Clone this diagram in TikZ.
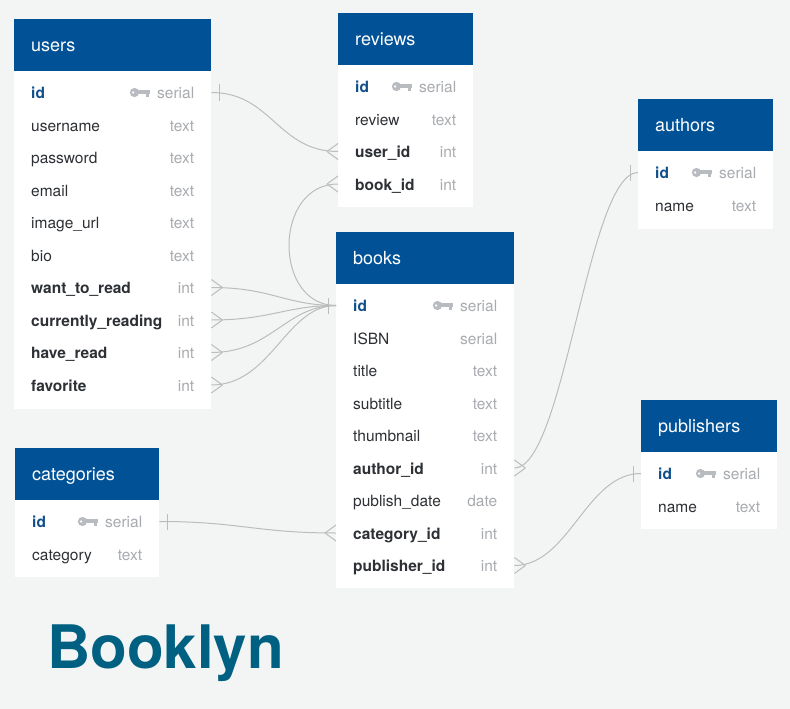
\documentclass[tikz,border=0pt]{standalone}
\usepackage{fontspec}
\setmainfont{TeX Gyre Heros}
\definecolor{bgcol}{RGB}{243,244,244}
\definecolor{hdblue}{RGB}{0,81,150}
\definecolor{pkblue}{RGB}{16,78,140}
\definecolor{fieldcol}{RGB}{45,48,52}
\definecolor{typecol}{RGB}{168,171,175}
\definecolor{keygrey}{RGB}{184,188,193}
\definecolor{linkcol}{RGB}{188,188,188}
\definecolor{brandcol}{RGB}{0,96,130}
\tikzset{
  tablehead/.style={anchor=north west, fill=hdblue, inner sep=0, minimum height=52pt},
  tabletitle/.style={anchor=west, text=white, inner sep=0, font=\fontsize{18}{20}\selectfont, text height=12pt, text depth=3.5pt},
  tablebody/.style={anchor=north west, fill=white, inner sep=0},
  rowbox/.style={anchor=west, inner sep=0, minimum height=0pt},
  colplain/.style={anchor=base west, inner sep=0, text=fieldcol, font=\fontsize{15.5}{18}\selectfont},
  colfk/.style={colplain, font=\fontsize{15.5}{18}\selectfont\bfseries},
  colpk/.style={colfk, text=pkblue},
  coltype/.style={anchor=base east, inner sep=0, text=typecol, font=\fontsize{15.5}{18}\selectfont},
  link/.style={draw=linkcol, line width=1pt},
  keyicon/.pic={
    \fill[keygrey, even odd rule] (-15.5,0) circle[radius=4.6pt] (-16.8,0) circle[radius=1.5pt];
    \fill[keygrey] (-12,-2.3) rectangle (0,1.2);
    \fill[keygrey] (-4,1.2) rectangle (-0.8,4.2);
  }
}
% crow's foot (many) and bar (one) at a table edge
\newcommand{\manyend}[2]{%
  \draw[link] ([xshift=#2*11pt]#1) -- ([yshift=8pt]#1)
              ([xshift=#2*11pt]#1) -- ([yshift=-8pt]#1);}
\newcommand{\oneend}[2]{%
  \draw[link] ([xshift=#2*8pt, yshift=8pt]#1) -- ([xshift=#2*8pt, yshift=-8pt]#1);}
\begin{document}
\begin{tikzpicture}[x=1pt, y=-1pt]
  \fill[bgcol] (0,0) rectangle (790,709);
  \useasboundingbox (0,0) rectangle (790,709);

  % users
  \node[tablebody, minimum width=197pt, minimum height=338pt] (users-body) at (14,71) {};
  \node[tablehead, minimum width=197pt] (users-head) at (14,19) {};
  \node[tabletitle] (users-title) at ([xshift=17pt, yshift=-2.5pt]users-head.west) {users};
  \foreach \n/\f/\t/\s [count=\i from 0] in {id/id/serial/colpk, uname/username/text/colplain,
      pw/password/text/colplain, mail/email/text/colplain, img/image\_url/text/colplain,
      bio/bio/text/colplain, wtr/want\_to\_read/int/colfk, cr/currently\_reading/int/colfk,
      hr/have\_read/int/colfk, fav/favorite/int/colfk} {
    \node[rowbox, minimum width=197pt] (users-\n) at (14, 92.5+32.5*\i) {};
    \node[\s] (users-\n-f) at ([xshift=17pt, yshift=-6.3pt]users-\n.west) {\f};
    \node[coltype] (users-\n-t) at ([xshift=-17pt, yshift=-6.3pt]users-\n.east) {\t};
  }
  \pic[xshift=-7pt] at (users-id-t.west |- users-id) {keyicon};

  % reviews
  \node[tablebody, minimum width=135pt, minimum height=142pt] (reviews-body) at (338,65) {};
  \node[tablehead, minimum width=135pt] (reviews-head) at (338,13) {};
  \node[tabletitle] (reviews-title) at ([xshift=17pt, yshift=-2.5pt]reviews-head.west) {reviews};
  \foreach \n/\f/\t/\s [count=\i from 0] in {id/id/serial/colpk, rev/review/text/colplain,
      uid/user\_id/int/colfk, bid/book\_id/int/colfk} {
    \node[rowbox, minimum width=135pt] (reviews-\n) at (338, 86.5+32.5*\i) {};
    \node[\s] (reviews-\n-f) at ([xshift=17pt, yshift=-6.3pt]reviews-\n.west) {\f};
    \node[coltype] (reviews-\n-t) at ([xshift=-17pt, yshift=-6.3pt]reviews-\n.east) {\t};
  }
  \pic[xshift=-7pt] at (reviews-id-t.west |- reviews-id) {keyicon};

  % authors
  \node[tablebody, minimum width=135pt, minimum height=78pt] (authors-body) at (638,151) {};
  \node[tablehead, minimum width=135pt] (authors-head) at (638,99) {};
  \node[tabletitle] (authors-title) at ([xshift=17pt, yshift=-2.5pt]authors-head.west) {authors};
  \foreach \n/\f/\t/\s [count=\i from 0] in {id/id/serial/colpk, name/name/text/colplain} {
    \node[rowbox, minimum width=135pt] (authors-\n) at (638, 172.5+32.5*\i) {};
    \node[\s] (authors-\n-f) at ([xshift=17pt, yshift=-6.3pt]authors-\n.west) {\f};
    \node[coltype] (authors-\n-t) at ([xshift=-17pt, yshift=-6.3pt]authors-\n.east) {\t};
  }
  \pic[xshift=-7pt] at (authors-id-t.west |- authors-id) {keyicon};

  % books
  \node[tablebody, minimum width=178pt, minimum height=304pt] (books-body) at (336,284) {};
  \node[tablehead, minimum width=178pt] (books-head) at (336,232) {};
  \node[tabletitle] (books-title) at ([xshift=17pt, yshift=-2.5pt]books-head.west) {books};
  \foreach \n/\f/\t/\s [count=\i from 0] in {id/id/serial/colpk, isbn/ISBN/serial/colplain,
      title/title/text/colplain, sub/subtitle/text/colplain, thumb/thumbnail/text/colplain,
      aid/author\_id/int/colfk, date/publish\_date/date/colplain, cid/category\_id/int/colfk,
      pid/publisher\_id/int/colfk} {
    \node[rowbox, minimum width=178pt] (books-\n) at (336, 305.5+32.5*\i) {};
    \node[\s] (books-\n-f) at ([xshift=17pt, yshift=-6.3pt]books-\n.west) {\f};
    \node[coltype] (books-\n-t) at ([xshift=-17pt, yshift=-6.3pt]books-\n.east) {\t};
  }
  \pic[xshift=-7pt] at (books-id-t.west |- books-id) {keyicon};

  % publishers
  \node[tablebody, minimum width=136pt, minimum height=77pt] (publishers-body) at (641,452) {};
  \node[tablehead, minimum width=136pt] (publishers-head) at (641,400) {};
  \node[tabletitle] (publishers-title) at ([xshift=17pt, yshift=-2.5pt]publishers-head.west) {publishers};
  \foreach \n/\f/\t/\s [count=\i from 0] in {id/id/serial/colpk, name/name/text/colplain} {
    \node[rowbox, minimum width=136pt] (publishers-\n) at (641, 473.5+32.5*\i) {};
    \node[\s] (publishers-\n-f) at ([xshift=17pt, yshift=-6.3pt]publishers-\n.west) {\f};
    \node[coltype] (publishers-\n-t) at ([xshift=-17pt, yshift=-6.3pt]publishers-\n.east) {\t};
  }
  \pic[xshift=-7pt] at (publishers-id-t.west |- publishers-id) {keyicon};

  % categories
  \node[tablebody, minimum width=144pt, minimum height=77pt] (categories-body) at (15,500) {};
  \node[tablehead, minimum width=144pt] (categories-head) at (15,448) {};
  \node[tabletitle] (categories-title) at ([xshift=17pt, yshift=-2.5pt]categories-head.west) {categories};
  \foreach \n/\f/\t/\s [count=\i from 0] in {id/id/serial/colpk, cat/category/text/colplain} {
    \node[rowbox, minimum width=144pt] (categories-\n) at (15, 521.5+32.5*\i) {};
    \node[\s] (categories-\n-f) at ([xshift=17pt, yshift=-6.3pt]categories-\n.west) {\f};
    \node[coltype] (categories-\n-t) at ([xshift=-17pt, yshift=-6.3pt]categories-\n.east) {\t};
  }
  \pic[xshift=-7pt] at (categories-id-t.west |- categories-id) {keyicon};

  % relations
  \draw[link] (users-id.east) .. controls +(60,0) and +(-60,0) .. (reviews-uid.west);
  \oneend{users-id.east}{1} \manyend{reviews-uid.west}{-1}
  \draw[link] (books-id.west) .. controls +(-63,0) and +(-65,0) .. (reviews-bid.west);
  \manyend{reviews-bid.west}{-1}
  \foreach \n in {wtr, cr, hr, fav} {
    \draw[link] (users-\n.east) .. controls +(60,0) and +(-50,0) .. (books-id.west);
    \manyend{users-\n.east}{1}
  }
  \oneend{books-id.west}{-1}
  \draw[link] (books-aid.east) .. controls +(50,0) and +(-50,0) .. (authors-id.west);
  \manyend{books-aid.east}{1} \oneend{authors-id.west}{-1}
  \draw[link] (books-pid.east) .. controls +(55,0) and +(-55,0) .. (publishers-id.west);
  \manyend{books-pid.east}{1} \oneend{publishers-id.west}{-1}
  \draw[link] (categories-id.east) .. controls +(80,0) and +(-80,0) .. (books-cid.west);
  \oneend{categories-id.east}{1} \manyend{books-cid.west}{-1}

  \node[anchor=base west, inner sep=0, text=brandcol, font=\fontsize{60}{60}\selectfont\bfseries] (brand) at (47,668) {Booklyn};
\end{tikzpicture}
\end{document}
